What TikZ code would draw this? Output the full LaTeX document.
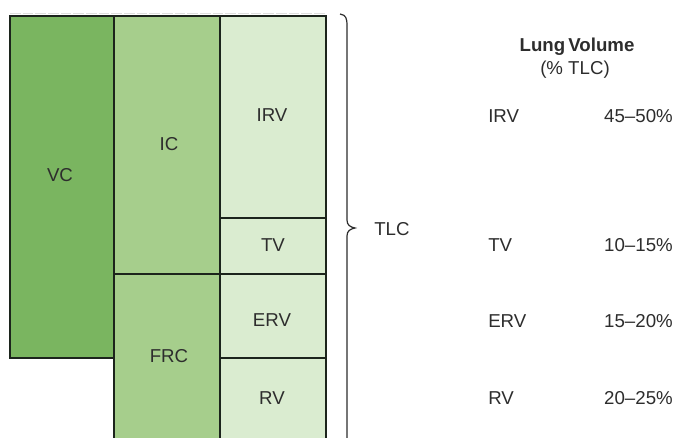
\documentclass[tikz,border=0pt]{standalone}
\usepackage{fontspec}
\setmainfont{Liberation Sans}
\definecolor{vcgreen}{RGB}{122,181,96}
\definecolor{icgreen}{RGB}{166,206,140}
\definecolor{lightgreen}{RGB}{218,236,208}
\definecolor{edge}{RGB}{28,36,28}
\definecolor{txt}{RGB}{45,45,45}
\tikzset{
  box/.style={draw=edge, line width=1.7pt},
  lbl/.style={text=txt, font=\fontsize{14}{16}\selectfont, inner sep=0pt},
  hdr/.style={text=txt, font=\fontsize{14}{16}\selectfont, inner sep=0pt, align=center},
}
\begin{document}
\begin{tikzpicture}[x=0.75pt,y=-0.75pt]
\useasboundingbox (0,0) rectangle (678,437);
\clip (0,0) rectangle (678,437);
\fill[white] (0,0) rectangle (678,437);
% faint top line
\draw[gray!25, line width=0.7pt, dash pattern=on 8pt off 1.5pt] (10,13) -- (326,13);
% boxes
\draw[box, fill=vcgreen] (10,16) rectangle (114,358);
\draw[box, fill=icgreen] (114,16) rectangle (220,274);
\draw[box, fill=icgreen] (114,274) rectangle (220,450);
\draw[box, fill=lightgreen] (220,16) rectangle (326,218);
\draw[box, fill=lightgreen] (220,218) rectangle (326,274);
\draw[box, fill=lightgreen] (220,274) rectangle (326,358);
\draw[box, fill=lightgreen] (220,358) rectangle (326,450);
% box labels
\node[lbl] (vc) at (60,175) {VC};
\node[lbl] (ic) at (169,144) {IC};
\node[lbl] (frc) at (169,356) {FRC};
\node[lbl] (irv) at (272,115) {IRV};
\node[lbl] (tv) at (273,245) {TV};
\node[lbl] (erv) at (272,320) {ERV};
\node[lbl] (rv) at (272,398) {RV};
% brace
\draw[txt, line width=0.9pt] (340,14) .. controls (346,15) and (347,18) .. (347,26)
  -- (347,220) .. controls (347,225) and (350,227) .. (355,228)
  .. controls (350,229) and (347,231) .. (347,236) -- (347,445);
\node[lbl, anchor=west] (tlc) at (374,229) {TLC};
% table
\node[hdr] (head) at (577,47) {\textbf{Lung\,Volume}};
\node[hdr] (sub) at (575,70) {(\%\ TLC)};
\node[lbl, anchor=west] (tirv) at (488,116) {IRV};
\node[lbl, anchor=west] (ttv) at (488,245) {TV};
\node[lbl, anchor=west] (terv) at (488,321) {ERV};
\node[lbl, anchor=west] (trv) at (488,398) {RV};
\node[lbl, anchor=east] (pirv) at (673,116) {45--50\%};
\node[lbl, anchor=east] (ptv) at (673,245) {10--15\%};
\node[lbl, anchor=east] (perv) at (673,321) {15--20\%};
\node[lbl, anchor=east] (prv) at (673,398) {20--25\%};
\end{tikzpicture}
\end{document}
